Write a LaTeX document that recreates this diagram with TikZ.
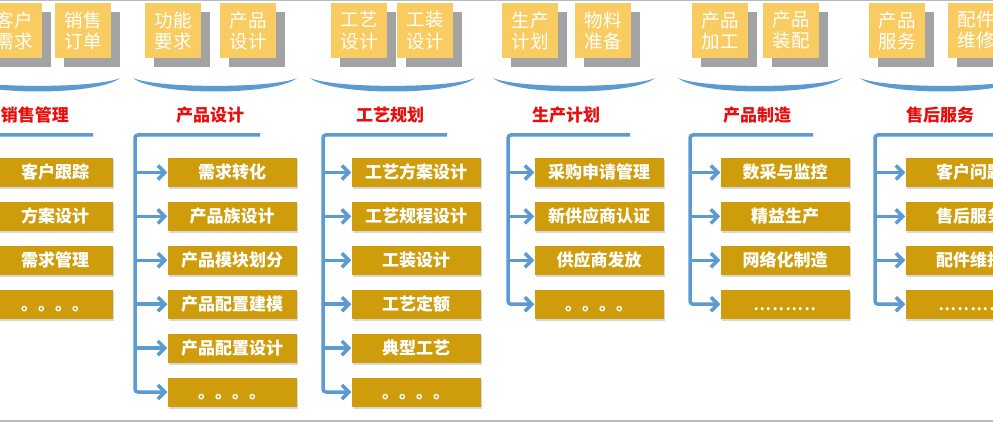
\documentclass[tikz,border=0pt]{standalone}
\usepackage{fontspec}
\newfontfamily\cjk{Noto Sans CJK SC}
\usetikzlibrary{arrows.meta}
\usetikzlibrary{positioning}
\usetikzlibrary{shadows}

\definecolor{gold}{RGB}{207,156,12}
\definecolor{sand}{RGB}{249,204,98}
\definecolor{steel}{RGB}{92,154,210}
\definecolor{headred}{RGB}{232,14,14}
\definecolor{band}{RGB}{178,188,200}

\begin{document}
\begin{tikzpicture}[x=1pt,y=-1pt,node distance=14.5pt,>={Straight Barb[length=7pt,width=14pt]},
  card/.style={fill=sand,text=white,minimum width=56pt,minimum height=55pt,inner sep=0pt,align=center,
    font=\cjk\fontsize{18.5}{21}\selectfont,
    drop shadow={shadow xshift=9pt,shadow yshift=-9pt,fill=black!42,opacity=0.85}},
  head/.style={text=headred,font=\cjk\bfseries\fontsize{17}{17}\selectfont},
  task/.style={fill=gold,text=white,minimum width=129pt,minimum height=29pt,inner sep=0pt,
    text height=15pt,text depth=2pt,font=\cjk\bfseries\fontsize{17}{17}\selectfont,
    drop shadow={shadow xshift=1pt,shadow yshift=-2pt,opacity=0.3}},
  dots/.style={task,font=\cjk\fontsize{23}{23}\selectfont},
  link/.style={draw=steel,line width=3.5pt,rounded corners=3pt},
  arc/.style={fill=steel}]
  \useasboundingbox (0,0) rectangle (993,422);
  \clip (0,0) rectangle (993,422);
  \fill[white] (0,0) rectangle (993,422);
  \fill[band] (0,0) rectangle (993,1.5);
  \fill[band] (0,419.5) rectangle (993,422);

  % top cards
  \node[card] (c11) at (14,30.5) {客户\\需求};
  \node[card] (c12) at (83,30.5) {销售\\订单};
  \node[card] (c21) at (173,30.5) {功能\\要求};
  \node[card] (c22) at (248,30.5) {产品\\设计};
  \node[card] (c31) at (359,30.5) {工艺\\设计};
  \node[card] (c32) at (425,30.5) {工装\\设计};
  \node[card] (c41) at (530,30.5) {生产\\计划};
  \node[card] (c42) at (603,30.5) {物料\\准备};
  \node[card] (c51) at (720,30.5) {产品\\加工};
  \node[card] (c52) at (791,30.5) {产品\\装配};
  \node[card] (c61) at (897,30.5) {产品\\服务};
  \node[card] (c62) at (976,30.5) {配件\\维修};

  % brackets under the cards
  \foreach \l/\r in {-44/120,133/297,310/475,493/655,678/842,860/1024}
    \fill[arc] (\l,78) .. controls (\l+22,96) and (\r-22,96) .. (\r,78)
      .. controls (\r-22,88.5) and (\l+22,88.5) .. (\l,78);

  % phases
  \node[head] (h1) at (35,115) {销售管理};
  \node[head] (h2) at (210,115) {产品设计};
  \node[head] (h3) at (390,115) {工艺规划};
  \node[head] (h4) at (566,115) {生产计划};
  \node[head] (h5) at (757,115) {产品制造};
  \node[head] (h6) at (940,115) {售后服务};

  % tasks
  \node[task,minimum width=116pt] (t11) at (55,172.5) {客户跟踪};
  \node[task,minimum width=116pt,below=of t11] (t12) {方案设计};
  \node[task,minimum width=116pt,below=of t12] (t13) {需求管理};
  \node[task,minimum width=116pt,below=of t13] (t14) {。。。。};

  \node[task] (t21) at (232,172.5) {需求转化};
  \node[task,below=of t21] (t22) {产品族设计};
  \node[task,below=of t22] (t23) {产品模块划分};
  \node[task,below=of t23] (t24) {产品配置建模};
  \node[task,below=of t24] (t25) {产品配置设计};
  \node[task,below=of t25] (t26) {。。。。};

  \node[task] (t31) at (416,172.5) {工艺方案设计};
  \node[task,below=of t31] (t32) {工艺规程设计};
  \node[task,below=of t32] (t33) {工装设计};
  \node[task,below=of t33] (t34) {工艺定额};
  \node[task,below=of t34] (t35) {典型工艺};
  \node[task,below=of t35] (t36) {。。。。};

  \node[task] (t41) at (599,172.5) {采购申请管理};
  \node[task,below=of t41] (t42) {新供应商认证};
  \node[task,below=of t42] (t43) {供应商发放};
  \node[task,below=of t43] (t44) {。。。。};

  \node[task] (t51) at (785,172.5) {数采与监控};
  \node[task,below=of t51] (t52) {精益生产};
  \node[task,below=of t52] (t53) {网络化制造};
  \node[dots,below=of t53] (t54) {..........};

  \node[task] (t61) at (970,172.5) {客户问题};
  \node[task,below=of t61] (t62) {售后服务};
  \node[task,below=of t62] (t63) {配件维护};
  \node[dots,below=of t63] (t64) {..........};

  % links
  \coordinate (v1) at (-33,135); \coordinate (e1) at (93,135);
  \coordinate (v2) at (135,135); \coordinate (e2) at (260,135);
  \coordinate (v3) at (323,135); \coordinate (e3) at (447,135);
  \coordinate (v4) at (508,135); \coordinate (e4) at (630,135);
  \coordinate (v5) at (690,135); \coordinate (e5) at (813,135);
  \coordinate (v6) at (875,135); \coordinate (e6) at (999,135);
  \draw[link,->] (e1) -- (v1) |- (t14.west);
  \draw[link,->] (e2) -- (v2) |- (t26.west);
  \draw[link,->] (e3) -- (v3) |- (t36.west);
  \draw[link,->] (e4) -- (v4) |- (t44.west);
  \draw[link,->] (e5) -- (v5) |- (t54.west);
  \draw[link,->] (e6) -- (v6) |- (t64.west);
  \foreach \g/\n in {1/3,2/5,3/5,4/3,5/3,6/3}
    \foreach \i in {1,...,\n}
      \draw[link,->] (v\g |- t\g\i.west) -- (t\g\i.west);
\end{tikzpicture}
\end{document}
